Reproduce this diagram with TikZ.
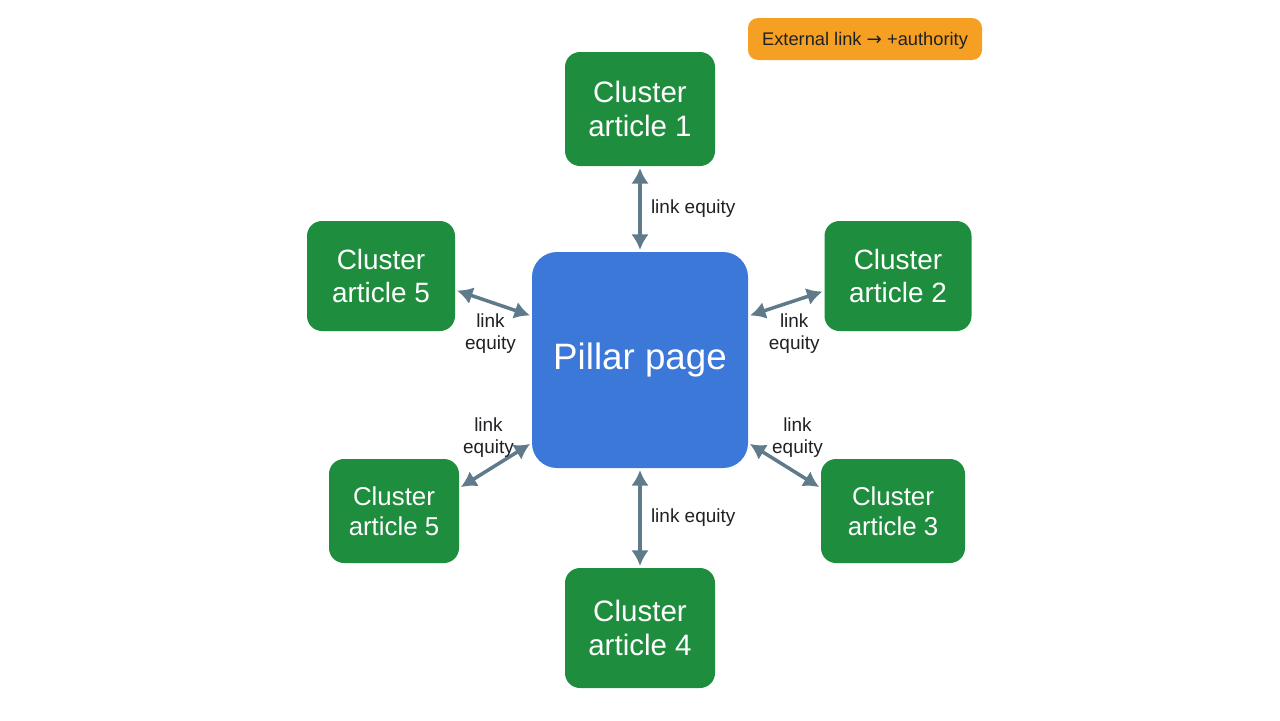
\documentclass[tikz,border=0pt]{standalone}
\usepackage{fontspec}
\setmainfont{Liberation Sans}
\newfontfamily\symfont{DejaVu Sans}
\usetikzlibrary{arrows.meta,positioning,calc}
\definecolor{pillarblue}{HTML}{3C78D8}
\definecolor{clustergreen}{HTML}{1E8E3E}
\definecolor{badgeorange}{HTML}{F5A022}
\definecolor{linkgray}{HTML}{5F7A8A}
\definecolor{inkdark}{HTML}{202124}
\tikzset{
  pillarbox/.style={
    fill=pillarblue,
    rounded corners=0.5cm,
    minimum width=4.32cm,
    minimum height=4.32cm,
    text=white,
    font=\fontsize{20.9pt}{24pt}\selectfont
  },
  clusterbox/.style={
    fill=clustergreen,
    rounded corners=0.3cm,
    align=center,
    text=white,
    font=\fontsize{16.8pt}{19.3pt}\selectfont
  },
  smallcluster/.style={
    clusterbox,
    font=\fontsize{14.7pt}{17pt}\selectfont
  },
  badge/.style={
    fill=badgeorange,
    rounded corners=0.2cm,
    minimum width=4.68cm,
    minimum height=0.84cm,
    text depth=0pt,
    text=inkdark,
    font=\fontsize{10.4pt}{12pt}\selectfont
  },
  equity/.style={{Latex[length=3.1mm,width=3.5mm]}-{Latex[length=3.1mm,width=3.5mm]},line width=2pt,draw=linkgray,shorten <=1pt,shorten >=1pt},
  eqlabel/.style={align=center,text=inkdark,inner sep=1pt,font=\fontsize{10.8pt}{12.5pt}\selectfont}
}
\begin{document}
\begin{tikzpicture}
\useasboundingbox[fill=white] (0,0) rectangle (25.6,-14.4);
% hub and spokes
\node[pillarbox] (pillar) at (12.8,-7.2) {Pillar page};
\node[clusterbox,minimum width=3.0cm,minimum height=2.28cm] (art1) at (12.8,-2.18) {Cluster\\article 1};
\node[clusterbox,minimum width=2.94cm,minimum height=2.2cm,font=\fontsize{15.9pt}{18.3pt}\selectfont] (art2) at (17.96,-5.52) {Cluster\\article 2};
\node[clusterbox,minimum width=2.96cm,minimum height=2.2cm,font=\fontsize{15.9pt}{18.3pt}\selectfont] (art5a) at (7.62,-5.52) {Cluster\\article 5};
\node[smallcluster,minimum width=2.6cm,minimum height=2.08cm] (art5b) at (7.88,-10.22) {Cluster\\article 5};
\node[smallcluster,minimum width=2.88cm,minimum height=2.08cm] (art3) at (17.86,-10.22) {Cluster\\article 3};
\node[clusterbox,minimum width=3.0cm,minimum height=2.4cm] (art4) at (12.8,-12.56) {Cluster\\article 4};
\node[badge] (ext) at (17.3,-0.78) {External link {\symfont →} +authority};
% links
\draw[equity] (art1.south) -- node[eqlabel,right=0.15cm] {link equity} (pillar.north);
\draw[equity] ([yshift=0.88cm]pillar.east) -- node[eqlabel,below=0.14cm,xshift=0.16cm] {link\\equity} ([yshift=-0.3cm]art2.west);
\draw[equity] ([yshift=-0.28cm]art5a.east) -- node[eqlabel,below=0.14cm,xshift=-0.06cm] {link\\equity} ([yshift=0.88cm]pillar.west);
\draw[equity] ([yshift=0.46cm]art5b.east) -- node[eqlabel,above=0.1cm,xshift=-0.14cm] {link\\equity} ([yshift=-1.66cm]pillar.west);
\draw[equity] ([yshift=-1.66cm]pillar.east) -- node[eqlabel,above=0.1cm,xshift=0.26cm] {link\\equity} ([yshift=0.46cm]art3.west);
\draw[equity] (pillar.south) -- node[eqlabel,right=0.15cm] {link equity} (art4.north);
\end{tikzpicture}
\end{document}
